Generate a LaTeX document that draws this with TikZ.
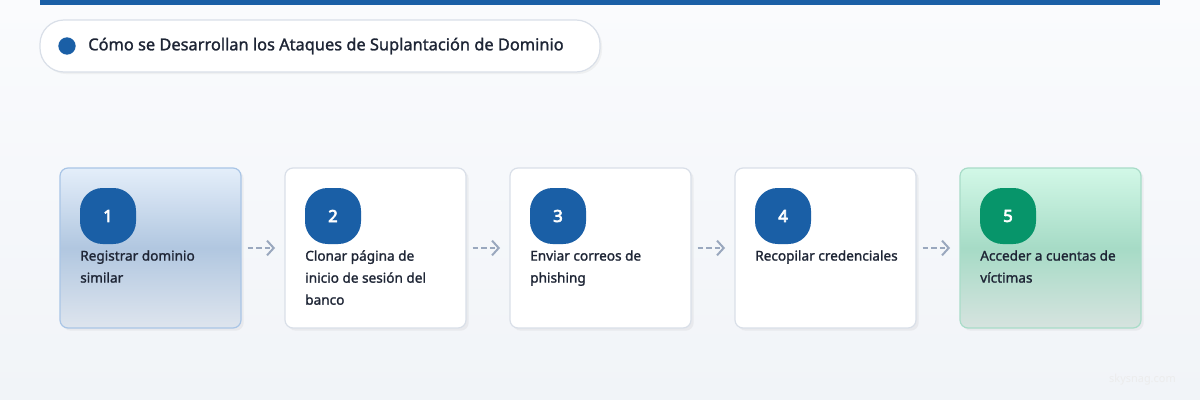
\documentclass[tikz,border=0pt]{standalone}
\usepackage{fontspec}
\setmainfont{Noto Sans}
\newfontfamily\medfont{Noto Sans}[FakeBold=1.4]
\newfontfamily\heavyfont{Noto Sans}[FakeBold=4]
\usetikzlibrary{arrows.meta,shadows}
\definecolor{mainblue}{HTML}{1A5FA6}
\definecolor{bordergray}{HTML}{D9DFE8}
\definecolor{arrowgray}{HTML}{9AA8BE}
\definecolor{textdark}{HTML}{1E2535}
\definecolor{greenbadge}{HTML}{07956A}
\definecolor{bluetop}{HTML}{E4EEFA}
\definecolor{bluemid}{HTML}{B1C7E0}
\definecolor{bluebot}{HTML}{DEE5EE}
\definecolor{blueborder}{HTML}{A9C5E6}
\definecolor{greentop}{HTML}{D2F8E7}
\definecolor{greenmid}{HTML}{A6DBC6}
\definecolor{greenbot}{HTML}{D6E3DF}
\definecolor{greenborder}{HTML}{A8DCC8}
\definecolor{bgtop}{HTML}{FAFBFD}
\definecolor{bgbot}{HTML}{F1F4F8}
\tikzset{
  card/.style={draw=bordergray, line width=0.9pt, rounded corners=6pt, minimum width=135.75pt, minimum height=120pt, fill=white,
    drop shadow={shadow xshift=2pt, shadow yshift=-2pt, fill=black!40, opacity=0.12}},
  bluecard/.style={card, draw=blueborder, top color=bluetop, bottom color=bluebot, middle color=bluemid},
  greencard/.style={card, draw=greenborder, top color=greentop, bottom color=greenbot, middle color=greenmid},
  badge/.style={fill=mainblue, rounded corners=17pt, minimum size=42pt, inner sep=0pt, text=white, font=\heavyfont\fontsize{12.5}{15}\selectfont},
  steptext/.style={anchor=north west, align=left, inner sep=0pt, text=textdark, font=\medfont\fontsize{10.2}{16.5}\selectfont},
  flowarrow/.style={draw=arrowgray, line width=1.3pt, dash pattern=on 4pt off 2.5pt, -{Straight Barb[length=5pt, width=11pt, line width=1.5pt]}, shorten <=4.5pt, shorten >=7pt}
}
\begin{document}
\begin{tikzpicture}[x=0.75pt, y=-0.75pt]
\useasboundingbox (0,0) rectangle (1200,400);
\shade[top color=bgtop, bottom color=bgbot] (0,0) rectangle (1200,400);
\fill[mainblue] (40,0) rectangle (1160,5);
\node[draw=bordergray, line width=0.9pt, fill=white, rounded corners=18pt, minimum width=420pt, minimum height=39pt,
  drop shadow={shadow xshift=1.5pt, shadow yshift=-1.5pt, fill=black!40, opacity=0.10}] (title) at (320,46) {};
\node[circle, fill=mainblue, minimum size=13pt, inner sep=0pt] (dot) at (67,46) {};
\node[anchor=west, inner sep=0pt, text=textdark, font=\medfont\fontsize{12.3}{14}\selectfont] (titletext) at (88,46) {Cómo se Desarrollan los Ataques de Suplantación de Dominio};

\node[bluecard] (c1) at (150.5,248) {};
\node[card] (c2) at (375.5,248) {};
\node[card] (c3) at (600.5,248) {};
\node[card] (c4) at (825.5,248) {};
\node[greencard] (c5) at (1050.5,248) {};

\node[badge] (b1) at (108,216) {1};
\node[badge] (b2) at (333,216) {2};
\node[badge] (b3) at (558,216) {3};
\node[badge] (b4) at (783,216) {4};
\node[badge, fill=greenbadge] (b5) at (1008,216) {5};

\node[steptext] (t1) at (80,250) {Registrar dominio\\similar};
\node[steptext] (t2) at (305,250) {Clonar página de\\inicio de sesión del\\banco};
\node[steptext] (t3) at (530,250) {Enviar correos de\\phishing};
\node[steptext] (t4) at (755,250) {Recopilar credenciales};
\node[steptext] (t5) at (980,250) {Acceder a cuentas de\\víctimas};

\draw[flowarrow] (c1.east) -- (c2.west);
\draw[flowarrow] (c2.east) -- (c3.west);
\draw[flowarrow] (c3.east) -- (c4.west);
\draw[flowarrow] (c4.east) -- (c5.west);

\node[anchor=east, inner sep=0pt, text=gray!15, font=\fontsize{8.2}{10}\selectfont] (wm) at (1176,380) {skysnag.com};
\end{tikzpicture}
\end{document}
